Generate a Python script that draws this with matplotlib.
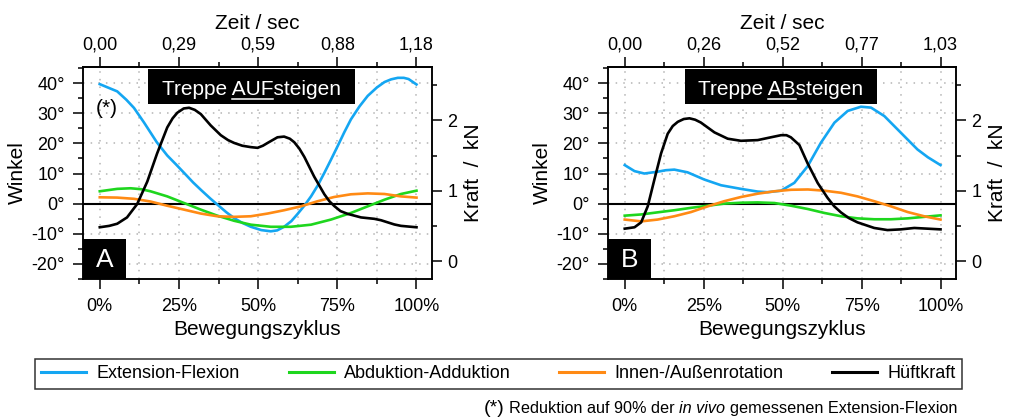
import matplotlib
matplotlib.use("Agg")
import matplotlib.pyplot as plt
from matplotlib.patches import Rectangle
from matplotlib.lines import Line2D
from matplotlib.ticker import MultipleLocator, FixedLocator, FuncFormatter

plt.rcParams['font.family'] = ['Liberation Sans', 'DejaVu Sans']

W, H, DPI = 1012, 419, 100

# ---------------------------------------------------------------- data
cycle_ticks = [0, 25, 50, 75, 100]
cycle_labels = ['0%', '25%', '50%', '75%', '100%']
time_labels_up = ['0,00', '0,29', '0,59', '0,88', '1,18']
time_labels_down = ['0,00', '0,26', '0,52', '0,77', '1,03']

# Treppe AUFsteigen
ext_up_x = [0, 5.5, 8.4, 10.8, 14, 18, 21.3, 24, 26.9, 29.5, 32, 35, 37.1, 40, 42.4,
            45, 47.7, 51, 54, 56, 58.2, 60.5, 62.4, 64.5, 66.7, 68.8, 70.9, 73,
            75.1, 77.2, 79.3, 82, 84.6, 87.5, 89.9, 92, 94.1, 96, 97.5, 100]
ext_up = [39.7, 37.3, 34.5, 31.8, 26.9, 20.4, 16.0, 13.1, 9.9, 7.0, 4.5, 1.6, -0.3, -2.9, -4.8,
          -6.4, -7.7, -8.8, -9.2, -8.9, -7.7, -5.8, -3.5, -0.8, 2.4, 6.0, 10.2, 14.6,
          19.1, 23.7, 28.0, 32.3, 35.8, 38.6, 40.4, 41.3, 41.8, 41.8, 41.4, 39.6]
abd_up_x = [0, 5.5, 9.7, 13, 16, 21.3, 26.6, 31.9, 37.1, 42.4, 47.7, 54, 60.3, 66.7,
            73, 79.3, 84.6, 89.9, 95.1, 100]
abd_up = [4.1, 4.9, 5.1, 4.8, 4.1, 2.4, 0.2, -2.0, -4.0, -5.7, -7.0, -7.7, -7.7, -7.0,
          -5.3, -3.1, -0.9, 1.3, 3.2, 4.3]
rot_up_x = [0, 5.5, 10.8, 16, 21.3, 26.6, 31.9, 37.1, 42.4, 47.7, 53, 58.2, 63.5, 68.8,
            74, 79.3, 84.6, 89.9, 95.1, 100]
rot_up = [2.1, 2.0, 1.6, 0.7, -0.7, -2.0, -3.3, -4.2, -4.4, -4.2, -3.3, -2.2, -0.9, 0.8,
          2.2, 3.1, 3.4, 3.2, 2.4, 2.0]
force_up_x = [0, 3, 5.5, 8.6, 11.8, 15, 18.1, 21.3, 23, 24.5, 26.5, 28.2, 30, 31.9, 35,
              38.2, 40.5, 42.4, 45, 47.7, 49.8, 51.5, 53, 56.1, 58.2, 60, 61.4, 63, 64.6,
              67.7, 70.9, 72.5, 74.1, 76, 78.3, 82.5, 86.7, 88.8, 90.9, 93, 95.1, 97.5, 100]
force_up = [0.48, 0.50, 0.53, 0.62, 0.81, 1.13, 1.53, 1.90, 2.03, 2.11, 2.17, 2.18, 2.15,
            2.09, 1.93, 1.79, 1.72, 1.68, 1.64, 1.62, 1.61, 1.64, 1.68, 1.76, 1.77, 1.74,
            1.69, 1.60, 1.48, 1.20, 0.95, 0.85, 0.78, 0.71, 0.67, 0.62, 0.60, 0.58, 0.55,
            0.52, 0.50, 0.49, 0.48]

# Treppe ABsteigen
ext_down_x = [0, 3.1, 6.2, 10.4, 13, 15.7, 19.9, 25.2, 30.5, 36.8, 42.1, 45.3, 49.5, 53.7,
              57.9, 62.1, 66.4, 70.6, 74.8, 78, 82.2, 87.4, 92.7, 96, 100]
ext_down = [12.8, 10.8, 10.0, 10.6, 11.1, 11.3, 10.4, 8.0, 6.1, 4.9, 4.0, 3.8, 4.3, 6.9,
            12.4, 20.2, 26.9, 30.8, 32.2, 31.9, 29.1, 23.6, 18.0, 15.4, 12.8]
abd_down_x = [0, 5.2, 10.4, 15.7, 21, 26.3, 31.5, 36.8, 42.1, 47.4, 52.7, 58, 63.2, 68.5,
              73.7, 79, 84.3, 89.6, 94.8, 100]
abd_down = [-4.0, -3.6, -2.9, -2.2, -1.4, -0.7, 0.0, 0.3, 0.4, 0.2, -0.7, -1.8, -3.1, -4.2,
            -4.9, -5.2, -5.2, -4.9, -4.4, -3.9]
rot_down_x = [0, 5.2, 10.4, 15.7, 21, 26.3, 31.5, 36.8, 42.1, 47.4, 52.7, 58, 63.2, 68.5,
              73.7, 79, 84.3, 89.6, 94.8, 100]
rot_down = [-5.3, -5.9, -5.3, -4.2, -2.8, -0.9, 0.8, 2.2, 3.3, 4.1, 4.6, 4.7, 4.3, 3.6,
            2.4, 0.8, -0.9, -2.8, -4.2, -5.3]
force_down_x = [0, 3.1, 5.2, 7.3, 9.4, 11.5, 13.6, 15.2, 16.8, 18.7, 20.5, 22.3, 24.1,
                28.4, 32.6, 36.8, 42.1, 46.3, 49.5, 51.2, 52.6, 55.3, 57.9, 61.1, 64.2,
                66.3, 68.5, 71, 73.7, 79, 83.2, 87.4, 91.7, 95.9, 100]
force_down = [0.46, 0.48, 0.55, 0.78, 1.16, 1.53, 1.81, 1.92, 1.98, 2.02, 2.03, 2.01, 1.97,
              1.83, 1.74, 1.71, 1.72, 1.76, 1.79, 1.79, 1.76, 1.65, 1.39, 1.11, 0.90,
              0.78, 0.69, 0.61, 0.55, 0.47, 0.44, 0.45, 0.47, 0.46, 0.45]

series_names = ['Extension-Flexion', 'Abduktion-Adduktion', 'Innen-/Außenrotation', 'Hüftkraft']
series_colors = ['#14A6F2', '#1ED61E', '#FF8A14', '#000000']

# ---------------------------------------------------------------- figure
fig = plt.figure(figsize=(W / DPI, H / DPI), dpi=DPI)
renderer = fig.canvas.get_renderer()


def fx(px):
    return px / W


def fy(py):
    return 1 - py / H


TICK_FS = 13
LABEL_FS = 15
LW = 1.9
GRID = dict(color='#b4b4b4', linestyle=(0, (1, 4)), linewidth=1.1)


def deg_fmt(v, _):
    return f'{v:.0f}°'


def text_width(s, **kw):
    t = fig.text(0, 0, s, **kw)
    w = t.get_window_extent(renderer).width
    t.remove()
    return w


def panel(left, right, angles, force_x, force, time_labels, head, under, letter):
    ax = fig.add_axes([fx(left), fy(279), fx(right - left), fy(67) - fy(279)])
    ax.set_xlim(-5.3, 104.9)
    ax.set_ylim(-25.05, 45.4)

    ax.xaxis.set_major_locator(FixedLocator(cycle_ticks))
    ax.set_xticklabels(cycle_labels)
    ax.xaxis.set_minor_locator(MultipleLocator(12.5))
    ax.yaxis.set_major_locator(MultipleLocator(10))
    ax.yaxis.set_minor_locator(MultipleLocator(5))
    ax.yaxis.set_major_formatter(FuncFormatter(deg_fmt))
    ax.grid(True, axis='x', which='both', **GRID)
    ax.grid(True, axis='y', which='major', **GRID)
    ax.set_axisbelow(True)

    ax.tick_params(axis='both', which='major', direction='out', length=7, width=1.1,
                   labelsize=TICK_FS)
    ax.tick_params(axis='both', which='minor', direction='out', length=3.5, width=1.1)
    ax.tick_params(axis='x', which='major', pad=7)
    ax.tick_params(axis='y', which='major', pad=6)
    for sp in ax.spines.values():
        sp.set_linewidth(1.1)

    ax.axhline(0, color='black', lw=1.5, zorder=2)
    for (xs, ys), c in zip(angles, series_colors[:3]):
        ax.plot(xs, ys, color=c, lw=LW, zorder=3, solid_joinstyle='round')

    ax.set_xlabel('Bewegungszyklus', fontsize=LABEL_FS, labelpad=3)
    ax.set_ylabel('Winkel', fontsize=LABEL_FS, labelpad=3)

    # force on the right-hand axis
    ax2 = ax.twinx()
    ax2.set_ylim(-0.256, 2.76)
    ax2.yaxis.set_major_locator(MultipleLocator(1))
    ax2.yaxis.set_minor_locator(MultipleLocator(0.5))
    ax2.yaxis.set_major_formatter(FuncFormatter(lambda v, _: f'{v:.0f}'))
    ax2.tick_params(axis='y', which='major', direction='out', length=7, width=1.1,
                    labelsize=TICK_FS, pad=4)
    ax2.tick_params(axis='y', which='minor', direction='out', length=3.5, width=1.1)
    for sp in ax2.spines.values():
        sp.set_linewidth(1.1)
    ax2.plot(force_x, force, color=series_colors[3], lw=LW, zorder=3,
             solid_joinstyle='round')
    ax2.set_ylabel('Kraft  /  kN', fontsize=LABEL_FS, labelpad=5)

    # time scale on top
    sec = ax.secondary_xaxis('top')
    sec.set_xticks(cycle_ticks, labels=time_labels)
    sec.xaxis.set_minor_locator(MultipleLocator(12.5))
    sec.tick_params(axis='x', which='major', direction='out', length=7, width=1.1,
                    labelsize=TICK_FS, pad=3)
    sec.tick_params(axis='x', which='minor', direction='out', length=3.5, width=1.1)
    sec.spines['top'].set_linewidth(1.1)
    sec.set_xlabel('Zeit / sec', fontsize=LABEL_FS, labelpad=5)

    # heading box with underlined part
    bx0, bx1, by0, by1 = head
    fig.patches.append(Rectangle((fx(bx0), fy(by1)), fx(bx1 - bx0), fy(by0) - fy(by1),
                                 transform=fig.transFigure, facecolor='black',
                                 edgecolor='none', zorder=5))
    prefix, mid, suffix = under
    kw = dict(fontsize=LABEL_FS)
    full = prefix + mid + suffix
    w_full = text_width(full, **kw)
    w_pm = text_width(prefix + mid, **kw)
    w_m = text_width(mid, **kw)
    cx = (bx0 + bx1) / 2
    x_start = cx - w_full / 2
    base = 95
    fig.text(fx(x_start), fy(base), full, color='white', ha='left', va='baseline',
             zorder=6, **kw)
    ux1 = x_start + w_pm
    ux0 = ux1 - w_m
    fig.lines.append(Line2D([fx(ux0), fx(ux1)], [fy(98.6), fy(98.6)],
                            transform=fig.transFigure, color='white', lw=1.1, zorder=6))

    # panel letter
    fig.patches.append(Rectangle((fx(left), fy(279)), fx(43), fy(239) - fy(279),
                                 transform=fig.transFigure, facecolor='black',
                                 edgecolor='none', zorder=5))
    fig.text(fx(left + 22), fy(260), letter, color='white', fontsize=19,
             ha='center', va='center', zorder=6)
    return ax


up_angles = [(ext_up_x, ext_up), (abd_up_x, abd_up), (rot_up_x, rot_up)]
down_angles = [(ext_down_x, ext_down), (abd_down_x, abd_down), (rot_down_x, rot_down)]

panel(83, 432, up_angles, force_up_x, force_up, time_labels_up,
      (148, 355, 69, 104), ('Treppe ', 'AUF', 'steigen'), 'A')
panel(608, 956, down_angles, force_down_x, force_down, time_labels_down,
      (685, 877, 69, 104), ('Treppe ', 'AB', 'steigen'), 'B')

fig.text(fx(96), fy(109), '(*)', fontsize=LABEL_FS, ha='left', va='center', zorder=6)

# legend
handles = [Line2D([], [], color=c, lw=2.2) for c in series_colors]
leg = fig.legend(handles, series_names, loc='upper left', ncol=4, mode='expand',
                 bbox_to_anchor=(fx(35), fy(392), fx(927), fy(359) - fy(392)),
                 borderaxespad=0, fontsize=TICK_FS, handlelength=2.5,
                 handletextpad=0.55, borderpad=0.35, fancybox=False, frameon=True)
leg.get_frame().set_edgecolor('black')
leg.get_frame().set_linewidth(1.1)

# footnote, laid out from the right edge
FOOT_FS = 11.7
pieces = [('(*)', 14, 'normal'), ('Reduktion auf 90% der', FOOT_FS, 'normal'),
          ('in vivo', FOOT_FS, 'italic'), ('gemessenen Extension-Flexion', FOOT_FS, 'normal')]
space = 0.278 * FOOT_FS * DPI / 72
widths = [text_width(s, fontsize=f, style=st) for s, f, st in pieces]
x = 957 - sum(widths) - space * (len(pieces) - 1)
for (s, f, st), w in zip(pieces, widths):
    fig.text(fx(x), fy(413), s, fontsize=f, style=st, ha='left', va='baseline')
    x += w + space

fig.savefig('out.png', dpi=DPI)
